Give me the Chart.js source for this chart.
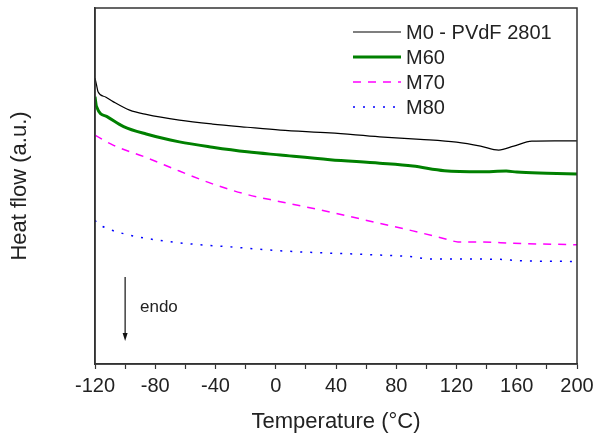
<!DOCTYPE html>
<html>
<head>
<meta charset="utf-8">
<script src="https://cdn.jsdelivr.net/npm/chart.js@4"></script>
<style>
  html, body { margin: 0; padding: 0; background: #fff; }
  #wrap { width: 600px; height: 441px; }
</style>
</head>
<body>
<div id="wrap"><canvas id="dsc"></canvas></div>
<script>
// DSC curves, heat flow in arbitrary units
const tM0 = [-120, -119, -118, -113, -108, -97, -86, -64, -42, -19, 3, 36, 69, 96, 120, 136, 148, 158, 170, 185, 200];
const hfM0 = [80.3, 78.4, 76.5, 75.0, 73.7, 71.3, 70.1, 68.5, 67.4, 66.5, 65.7, 64.9, 63.8, 63.1, 62.3, 61.2, 60.1, 61.2, 62.6, 62.7, 62.7];

const tM60 = [-120, -119, -112, -101, -86, -64, -42, -19, 3, 36, 69, 91, 112, 136, 153, 160, 180, 200];
const hfM60 = [75.1, 72.3, 69.5, 66.7, 64.6, 62.4, 60.9, 59.6, 58.7, 57.4, 56.4, 55.6, 54.3, 54.0, 54.2, 53.9, 53.6, 53.4];

const tM70 = [-120, -108, -86, -64, -42, -19, 3, 36, 69, 91, 114, 121, 136, 158, 200];
const hfM70 = [64.3, 61.5, 58.0, 54.2, 50.6, 47.6, 45.6, 42.7, 39.5, 37.4, 35.0, 34.3, 34.3, 33.9, 33.5];

const tM80 = [-120, -119, -112, -97, -75, -53, -30, -4, 16, 69, 91, 102, 120, 149, 162, 200];
const hfM80 = [40.4, 39.8, 38.1, 36.2, 34.6, 33.6, 32.9, 32.0, 31.5, 30.6, 30.1, 29.5, 29.5, 29.4, 29.0, 28.8];

const seriesNames = ['M0 - PVdF 2801', 'M60', 'M70', 'M80'];
const xTicks = [-120, -80, -40, 0, 40, 80, 120, 160, 200];

const FONT = '"Liberation Sans", Arial, sans-serif';

function pts(t, v) {
    return t.map((x, i) => ({ x: x, y: v[i] }));
}

// legend + frame + endo arrow
const extras = {
    id: 'extras',
    afterDraw(chart) {
        const ctx = chart.ctx;
        const a = chart.chartArea;
        ctx.save();
        ctx.strokeStyle = '#333';
        ctx.lineWidth = 1.5;
        ctx.strokeRect(a.left, a.top, a.right - a.left, a.bottom - a.top);

        // legend
        ctx.font = '20px ' + FONT;
        ctx.textBaseline = 'middle';
        chart.data.datasets.forEach((ds, i) => {
            const y = 32 + i * 25;
            ctx.beginPath();
            ctx.strokeStyle = ds.borderColor;
            ctx.lineWidth = ds.borderWidth;
            ctx.setLineDash(ds.borderDash || []);
            ctx.moveTo(353, y);
            ctx.lineTo(401, y);
            ctx.stroke();
            ctx.setLineDash([]);
            ctx.fillStyle = '#222';
            ctx.fillText(ds.label, 406, y + 1);
        });

        // endo arrow
        const ax = chart.scales.x.getPixelForValue(-100);
        ctx.strokeStyle = '#111';
        ctx.fillStyle = '#111';
        ctx.lineWidth = 1.2;
        ctx.beginPath();
        ctx.moveTo(ax, 277);
        ctx.lineTo(ax, 334);
        ctx.stroke();
        ctx.beginPath();
        ctx.moveTo(ax - 2.5, 333);
        ctx.lineTo(ax + 2.5, 333);
        ctx.lineTo(ax, 341);
        ctx.closePath();
        ctx.fill();
        ctx.font = '17px ' + FONT;
        ctx.fillStyle = '#222';
        ctx.fillText('endo', 140, 307);
        ctx.restore();
    }
};

new Chart(document.getElementById('dsc'), {
    type: 'line',
    data: {
        datasets: [
            {
                label: seriesNames[0],
                data: pts(tM0, hfM0),
                borderColor: '#000000',
                borderWidth: 1.2
            },
            {
                label: seriesNames[1],
                data: pts(tM60, hfM60),
                borderColor: '#008000',
                borderWidth: 3
            },
            {
                label: seriesNames[2],
                data: pts(tM70, hfM70),
                borderColor: '#ff00ff',
                borderWidth: 1.5,
                borderDash: [8, 7]
            },
            {
                label: seriesNames[3],
                data: pts(tM80, hfM80),
                borderColor: '#0000ff',
                borderWidth: 1.5,
                borderDash: [2, 8]
            }
        ]
    },
    options: {
        responsive: true,
        maintainAspectRatio: false,
        animation: false,
        devicePixelRatio: 1,
        elements: {
            point: { radius: 0 },
            line: { cubicInterpolationMode: 'monotone', fill: false }
        },
        layout: { padding: { top: 8, right: 23, left: 0, bottom: 0 } },
        plugins: {
            legend: { display: false },
            tooltip: { enabled: false }
        },
        scales: {
            x: {
                type: 'linear',
                min: -120,
                max: 200,
                ticks: {
                    stepSize: 20,
                    autoSkip: false,
                    maxRotation: 0,
                    color: '#222',
                    padding: 5,
                    font: { family: FONT, size: 20 },
                    callback: (v) => xTicks.includes(v) ? String(v) : ''
                },
                grid: {
                    drawOnChartArea: false,
                    tickLength: 5,
                    tickColor: '#333',
                    tickWidth: 1.2
                },
                border: { color: '#333', width: 1.5 },
                title: {
                    display: true,
                    text: 'Temperature (°C)',
                    color: '#222',
                    font: { family: FONT, size: 22 },
                    padding: 6
                },
                afterFit: (s) => { s.height = 77; }
            },
            y: {
                min: 0,
                max: 100,
                ticks: { display: false },
                grid: { display: false },
                border: { color: '#333', width: 1.5 },
                title: {
                    display: true,
                    text: 'Heat flow (a.u.)',
                    color: '#222',
                    font: { family: FONT, size: 22 },
                    padding: 7
                },
                afterFit: (s) => { s.width = 95; }
            }
        }
    },
    plugins: [extras]
});
</script>
</body>
</html>
